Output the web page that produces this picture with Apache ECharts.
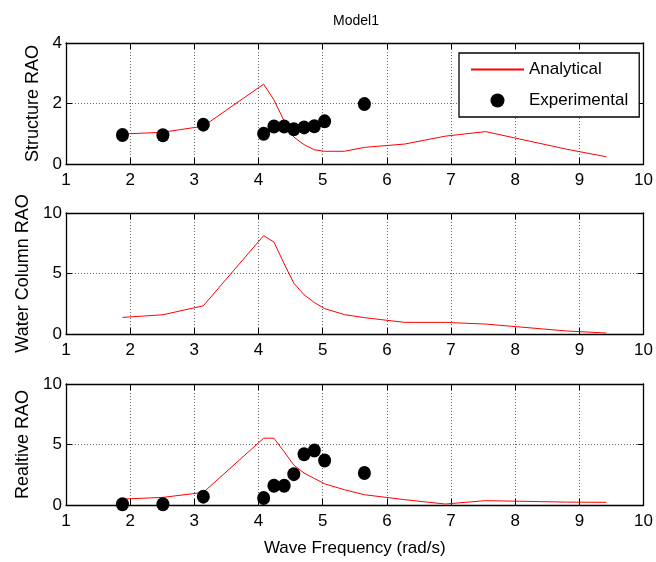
<!DOCTYPE html>
<html>
<head>
<meta charset="utf-8">
<script src="https://cdn.jsdelivr.net/npm/echarts@6/dist/echarts.min.js"></script>
<style>
  html, body { margin: 0; padding: 0; background: #fff; }
  #chart { width: 656px; height: 562px; }
</style>
</head>
<body>
<div id="chart"></div>
<script>
// wave frequency (rad/s) of the analytical curve
const freqAna = [1.88, 2.51, 3.14, 4.08, 4.24, 4.40, 4.55, 4.71, 4.87, 5.03, 5.34, 5.65, 6.28, 6.91, 7.54, 8.80, 9.42];
const structAna = [0.99, 1.05, 1.25, 2.64, 2.12, 1.42, 0.89, 0.64, 0.47, 0.42, 0.42, 0.55, 0.66, 0.92, 1.07, 0.49, 0.24];
const waterAna = [1.37, 1.59, 2.33, 8.13, 7.60, 5.80, 4.20, 3.24, 2.60, 2.10, 1.60, 1.35, 0.96, 0.96, 0.82, 0.25, 0.08];
const relAna = [0.49, 0.63, 1.04, 5.52, 5.52, 4.40, 3.30, 2.64, 2.20, 1.75, 1.26, 0.85, 0.44, 0.08, 0.36, 0.24, 0.22];

// experimental points
const freqExp = [1.88, 2.51, 3.14, 4.08, 4.24, 4.40, 4.55, 4.71, 4.87, 5.03, 5.65];
const structExp = [0.96, 0.95, 1.30, 1.00, 1.24, 1.24, 1.15, 1.21, 1.25, 1.41, 1.98];
const relExp = [0.06, 0.06, 0.69, 0.58, 1.59, 1.59, 2.55, 4.20, 4.50, 3.68, 2.64];

const xTicks = [1, 2, 3, 4, 5, 6, 7, 8, 9, 10];
const yNames = ['Structure RAO', 'Water Column RAO', 'Realtive RAO'];
const yMax = [4, 10, 10];
const yStep = [2, 5, 5];

const font = 'Liberation Sans, Arial, sans-serif';
const fs = 17;
const pair = (xs, ys) => xs.map((x, i) => [x, ys[i]]);

const grids = [43, 213, 384].map(top => ({ left: 66, top: top, width: 580, height: 121 }));

const xAxes = [];
const yAxes = [];
grids.forEach((g, i) => {
  const base = {
    type: 'value', gridIndex: i, min: xTicks[0], max: xTicks[xTicks.length - 1], interval: 1,
    axisLine: { show: true, onZero: false, lineStyle: { color: '#000', width: 1.3 } },
    axisTick: { show: true, inside: true, length: 6, lineStyle: { color: '#000' } }
  };
  xAxes.push(Object.assign({}, base, {
    position: 'bottom',
    axisLabel: { color: '#000', fontSize: fs, fontFamily: font, margin: 8 },
    splitLine: { show: true, lineStyle: { color: '#666', type: [1, 2], width: 1 } },
    name: i === 2 ? 'Wave Frequency (rad/s)' : '',
    nameLocation: 'middle', nameGap: 35,
    nameTextStyle: { color: '#000', fontSize: fs, fontFamily: font }
  }));
  xAxes.push(Object.assign({}, base, {
    position: 'top', axisLabel: { show: false }, splitLine: { show: false }
  }));
  const ybase = {
    type: 'value', gridIndex: i, min: 0, max: yMax[i], interval: yStep[i],
    axisLine: { show: true, onZero: false, lineStyle: { color: '#000', width: 1.3 } },
    axisTick: { show: true, inside: true, length: 6, lineStyle: { color: '#000' } }
  };
  yAxes.push(Object.assign({}, ybase, {
    position: 'left',
    axisLabel: { color: '#000', fontSize: fs, fontFamily: font, margin: 4 },
    splitLine: { show: true, lineStyle: { color: '#666', type: [1, 2], width: 1 } },
    name: yNames[i], nameLocation: 'middle', nameGap: 24,
    nameTextStyle: { color: '#000', fontSize: 18, fontFamily: font }
  }));
  yAxes.push(Object.assign({}, ybase, {
    position: 'right', axisLabel: { show: false }, splitLine: { show: false }
  }));
});

const anaData = [structAna, waterAna, relAna];
const series = [];
anaData.forEach((ys, i) => {
  series.push({
    name: 'Analytical', type: 'line', xAxisIndex: i * 2, yAxisIndex: i * 2,
    data: pair(freqAna, ys), symbol: 'none',
    lineStyle: { color: '#ff0000', width: 1 }, itemStyle: { color: '#ff0000' },
    z: 3
  });
});
[[0, structExp], [2, relExp]].forEach(([i, ys]) => {
  series.push({
    name: 'Experimental', type: 'scatter', xAxisIndex: i * 2, yAxisIndex: i * 2,
    data: pair(freqExp, ys), symbol: 'circle', symbolSize: [13, 14],
    itemStyle: { color: '#000', opacity: 1 }, clip: false, z: 4
  });
});

const chart = echarts.init(document.getElementById('chart'), null, { renderer: 'canvas' });
chart.setOption({
  animation: false,
  backgroundColor: '#fff',
  title: {
    text: 'Model1', left: 328, top: 9,
    textStyle: { color: '#000', fontSize: 14, fontWeight: 'normal', fontFamily: font }
  },
  legend: {
    data: [{ name: 'Analytical', itemStyle: { opacity: 0 } }, 'Experimental'],
    orient: 'vertical', left: 459, top: 53,
    padding: [8, 11, 8, 11], itemGap: 14, itemWidth: 53, itemHeight: 14,
    backgroundColor: '#fff', borderColor: '#000', borderWidth: 1.3,
    textStyle: { color: '#000', fontSize: fs, fontFamily: font }
  },
  grid: grids,
  xAxis: xAxes,
  yAxis: yAxes,
  series: series
});
</script>
</body>
</html>
